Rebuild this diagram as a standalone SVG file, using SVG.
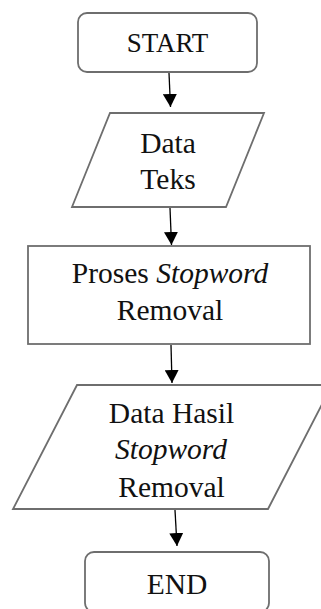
<svg xmlns="http://www.w3.org/2000/svg" width="321" height="609" viewBox="0 0 321 609">
<defs>
<marker id="ah" markerWidth="14" markerHeight="14" refX="13" refY="7" orient="auto" markerUnits="userSpaceOnUse">
<path d="M0,0 L13,7 L0,14 Z" fill="#000"/>
</marker>
<style>
.shape{fill:#fff;stroke:#6e6e6e;stroke-width:1.8}
.t{font-family:'Liberation Serif','Times New Roman',serif;font-size:29.5px;fill:#111;text-anchor:middle}
.i{font-style:italic}
.c{stroke:#000;stroke-width:1.3;fill:none}
</style>
</defs>
<rect width="321" height="609" fill="#fff"/>
<g id="start">
<rect class="shape" x="78" y="13" width="179" height="59" rx="9"/>
<text class="t" x="167.5" y="51.5" style="font-size:27px">START</text>
</g>
<g id="data-teks">
<polygon class="shape" points="110,113 264,113 226,207 72,207"/>
<text class="t" x="168" y="153">Data</text>
<text class="t" x="168" y="189">Teks</text>
</g>
<g id="proses">
<rect class="shape" x="28" y="246" width="282" height="98"/>
<text class="t" x="170" y="283">Proses <tspan class="i">Stopword</tspan></text>
<text class="t" x="170" y="320">Removal</text>
</g>
<g id="data-hasil">
<polygon class="shape" points="77,385 332,385 268,509 13,509"/>
<text class="t" x="171.5" y="423">Data Hasil</text>
<text class="t i" x="171" y="459">Stopword</text>
<text class="t" x="171.5" y="497">Removal</text>
</g>
<g id="end">
<rect class="shape" x="85" y="552" width="184" height="60" rx="9"/>
<text class="t" x="177" y="594">END</text>
</g>
<g id="connectors">
<line class="c" x1="169" y1="73" x2="170.5" y2="107" marker-end="url(#ah)"/>
<line class="c" x1="170" y1="208" x2="171.5" y2="245" marker-end="url(#ah)"/>
<line class="c" x1="171" y1="345" x2="172" y2="383" marker-end="url(#ah)"/>
<line class="c" x1="175" y1="510" x2="177" y2="546" marker-end="url(#ah)"/>
</g>
</svg>
